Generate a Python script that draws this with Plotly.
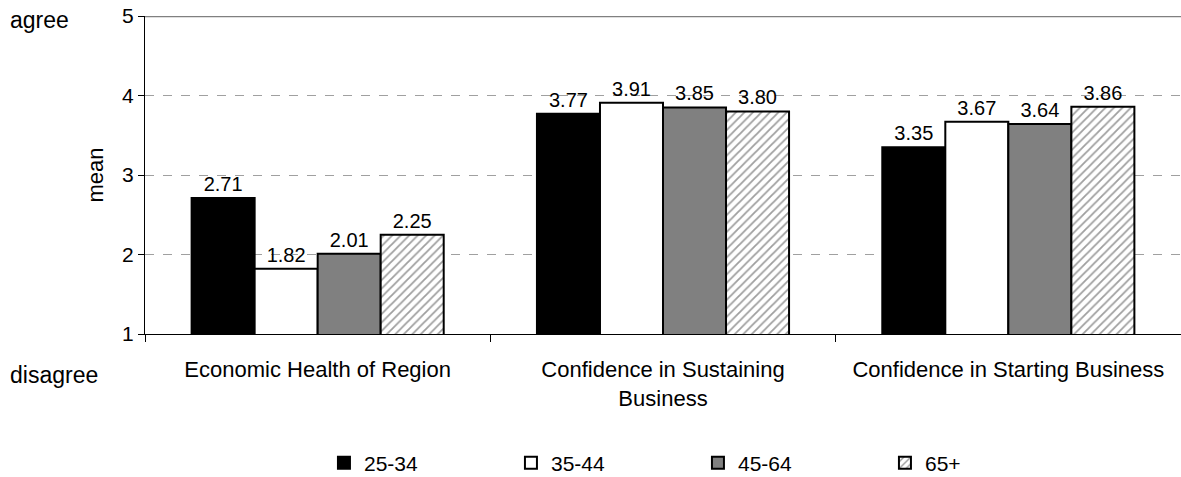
import plotly.graph_objects as go

categories = ["Economic Health of Region", "Confidence in Sustaining<br>Business", "Confidence in Starting Business"]
series_names = ["25-34", "35-44", "45-64", "65+"]
v_25_34 = [2.71, 3.77, 3.35]
v_35_44 = [1.82, 3.91, 3.67]
v_45_64 = [2.01, 3.85, 3.64]
v_65 = [2.25, 3.80, 3.86]
y_ticks = [1, 2, 3, 4, 5]

values = [v_25_34, v_35_44, v_45_64, v_65]
fills = ["#000000", "#ffffff", "#808080", "#ffffff"]
FONT = "Liberation Sans, Arial, sans-serif"

fig = go.Figure()
for i, (name, vals) in enumerate(zip(series_names, values)):
    marker = dict(color=fills[i], line=dict(color="#000000", width=2))
    if name == "65+":
        marker["pattern"] = dict(shape="/", fgcolor="#404040", bgcolor="#ffffff", size=6, solidity=0.3)
    fig.add_trace(go.Bar(
        x=categories, y=vals, name=name, marker=marker,
        text=[f"{v:.2f}" for v in vals], textposition="outside",
        textfont=dict(size=20, color="#000000", family=FONT),
        cliponaxis=False,
    ))

fig.update_layout(
    width=1181, height=477,
    margin=dict(l=145, r=0, t=16, b=143, autoexpand=False),
    paper_bgcolor="white", plot_bgcolor="white",
    barmode="group", bargap=0.27, bargroupgap=0,
    font=dict(family=FONT, size=21, color="#000000"),
    showlegend=True,
    legend=dict(orientation="h", xref="container", yref="container",
                x=0.2743, y=0.029, xanchor="left", yanchor="middle",
                entrywidth=142, entrywidthmode="pixels", font=dict(size=21),
                traceorder="normal", bgcolor="rgba(0,0,0,0)"),
)
fig.update_xaxes(
    showline=True, linecolor="#000000", linewidth=1, automargin=False,
    ticks="outside", tickson="boundaries", ticklen=7, tickcolor="#000000",
    tickfont=dict(size=22), showgrid=False, ticklabelstandoff=16,
)
fig.update_yaxes(
    range=[1, 5], tickvals=y_ticks, ticktext=[str(t) for t in y_ticks],
    showline=True, linecolor="#000000", linewidth=1, automargin=False,
    ticks="outside", ticklen=6, tickcolor="#000000", ticklabeloverflow="allow",
    showgrid=True, gridcolor="#a0a0a0", griddash="dash", gridwidth=1,
    tickfont=dict(size=21), zeroline=False,
    title=dict(text="mean", font=dict(size=22), standoff=12),
)
fig.add_shape(type="line", xref="paper", yref="y", x0=0, x1=1, y0=5, y1=5,
              line=dict(color="#808080", width=2.5))
fig.add_annotation(text="agree", xref="paper", yref="paper", x=-0.132, y=0.987,
                   xanchor="left", yanchor="middle", showarrow=False, font=dict(size=23))
fig.add_annotation(text="disagree", xref="paper", yref="paper", x=-0.132, y=-0.13,
                   xanchor="left", yanchor="middle", showarrow=False, font=dict(size=23))

fig.write_html("out.html", config={"displayModeBar": False},
               post_script="document.body.style.margin='0';")
